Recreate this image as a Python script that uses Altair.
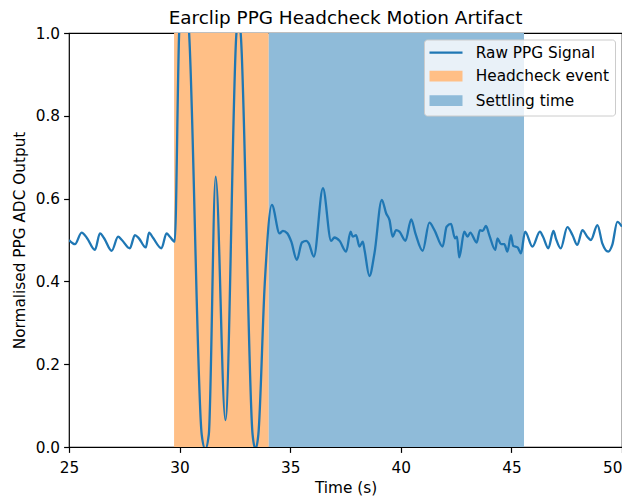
import altair as alt
import pandas as pd

# ---- data ----
time_s = [25.00, 25.27, 25.57, 25.81, 26.17, 26.40, 26.58, 26.93, 27.22, 27.39,
          27.75, 27.98, 28.16, 28.47, 28.62, 28.79, 29.18, 29.41, 29.56, 29.78,
          29.98, 30.20, 30.43, 31.00, 31.16, 31.32, 31.63, 32.07, 32.57, 32.66,
          32.76, 33.30, 33.43, 33.56, 33.85, 34.17, 34.52, 34.67, 34.87, 35.05,
          35.30, 35.53, 35.73, 35.84, 36.07, 36.48, 36.85, 37.00, 37.23, 37.53,
          37.73, 37.83, 37.98, 38.13, 38.28, 38.36, 38.58, 38.81, 39.14, 39.34,
          39.49, 39.63, 39.79, 39.94, 40.21, 40.47, 40.66, 40.99, 41.29, 41.52,
          41.89, 42.07, 42.27, 42.45, 42.54, 42.64, 42.87, 43.02, 43.14, 43.43,
          43.58, 43.70, 43.85, 44.00, 44.27, 44.37, 44.53, 44.68, 44.82, 44.98,
          45.08, 45.28, 45.43, 45.62, 45.95, 46.29, 46.43, 46.67, 46.90, 47.01,
          47.23, 47.53, 47.76, 47.98, 48.21, 48.43, 48.59, 48.89, 49.11, 49.38,
          49.56, 49.79, 50.00]
ppg = [0.500, 0.490, 0.518, 0.505, 0.476, 0.516, 0.505, 0.474, 0.508, 0.500,
       0.480, 0.512, 0.504, 0.482, 0.518, 0.506, 0.480, 0.516, 0.508, 0.496,
       1.000, 1.150, 1.000, 0.030, -0.005, 0.030, 0.653, 0.065, 1.000, 1.040,
       1.000, 0.030, -0.005, 0.030, 0.395, 0.585, 0.516, 0.522, 0.516, 0.496,
       0.452, 0.494, 0.498, 0.492, 0.460, 0.625, 0.498, 0.506, 0.498, 0.472,
       0.520, 0.508, 0.512, 0.484, 0.496, 0.476, 0.413, 0.468, 0.597, 0.564,
       0.548, 0.508, 0.524, 0.520, 0.498, 0.550, 0.516, 0.474, 0.542, 0.524,
       0.484, 0.532, 0.539, 0.504, 0.508, 0.458, 0.520, 0.508, 0.518, 0.494,
       0.524, 0.522, 0.534, 0.512, 0.476, 0.504, 0.490, 0.490, 0.472, 0.512,
       0.486, 0.482, 0.468, 0.520, 0.484, 0.520, 0.508, 0.480, 0.522, 0.504,
       0.480, 0.531, 0.512, 0.488, 0.524, 0.508, 0.500, 0.536, 0.492, 0.472,
       0.488, 0.544, 0.532]

span_labels = ["Headcheck event", "Settling time"]
span_start = [29.75, 34.03]
span_end = [34.03, 45.57]

legend_labels = ["Raw PPG Signal", "Headcheck event", "Settling time"]
x_ticks = [25, 30, 35, 40, 45, 50]
y_ticks = [0.0, 0.2, 0.4, 0.6, 0.8, 1.0]

# ---- styling ----
FONT = "DejaVu Sans"
LINE_BLUE = "#1f77b4"
SPAN_ORANGE = "#ffbf86"
SPAN_BLUE = "#8fbbd9"
LINE_PATH = "M-1.275,0H4.225"
RECT_PATH = "M-1.083,-0.7H4.033V0.7H-1.083Z"

sig_df = pd.DataFrame({"t": time_s, "v": ppg})
span_df = pd.DataFrame({"label": span_labels, "start": span_start, "end": span_end,
                        "lo": [0.0, 0.0], "hi": [1.0, 1.0]})
leg_df = pd.DataFrame({"label": legend_labels, "t": [0.0] * 3, "v": [0.5] * 3})

x_scale = alt.Scale(domain=[25, 50], nice=False, zero=False)
y_scale = alt.Scale(domain=[0, 1], nice=False, zero=False)

x_axis = alt.Axis(
    values=x_ticks, format="d", title="Time (s)", labelFlush=False,
    labelAlign={"condition": {"test": f"datum.value == {x_ticks[-1]}",
                              "value": "right"}, "value": "center"},
)
y_axis = alt.Axis(values=y_ticks, format=".1f", title="Normalised PPG ADC Output")

spans = alt.Chart(span_df).mark_rect(opacity=1).encode(
    x=alt.X("start:Q", scale=x_scale, axis=x_axis),
    x2="end:Q",
    y=alt.Y("lo:Q", scale=y_scale, axis=y_axis),
    y2="hi:Q",
    color=alt.Color("label:N", scale=alt.Scale(domain=span_labels,
                                               range=[SPAN_ORANGE, SPAN_BLUE]),
                    legend=None),
)

line = alt.Chart(sig_df).mark_line(color=LINE_BLUE, strokeWidth=2.3,
                                   interpolate="monotone", clip=True).encode(
    x=alt.X("t:Q", scale=x_scale, axis=x_axis),
    y=alt.Y("v:Q", scale=y_scale, axis=y_axis),
)

leg_common = dict(
    title=None, orient="none", legendX=355, legendY=6.5, padding=5.5,
    rowPadding=5.5, labelOffset=31, symbolOffset=0, symbolSize=144,
    symbolStrokeWidth=2.3, labelFontSize=15.3, labelFont=FONT,
    labelColor="black", fillColor="rgba(255,255,255,0.8)",
    strokeColor="#cccccc", cornerRadius=3, labelLimit=400, symbolOpacity=1,
)

legend_layer = alt.Chart(leg_df).mark_point(filled=True, opacity=1, size=144,
                                            clip=True).encode(
    x=alt.X("t:Q", scale=x_scale, axis=x_axis),
    y=alt.Y("v:Q", scale=y_scale, axis=y_axis),
    fill=alt.Fill("label:N", scale=alt.Scale(domain=legend_labels,
                  range=["transparent", SPAN_ORANGE, SPAN_BLUE]),
                  legend=alt.Legend(**leg_common)),
    stroke=alt.Stroke("label:N", scale=alt.Scale(domain=legend_labels,
                      range=[LINE_BLUE, SPAN_ORANGE, SPAN_BLUE]),
                      legend=alt.Legend(**leg_common)),
    shape=alt.Shape("label:N", scale=alt.Scale(domain=legend_labels,
                    range=[LINE_PATH, RECT_PATH, RECT_PATH]),
                    legend=alt.Legend(**leg_common)),
)

chart = alt.layer(spans, line, legend_layer).properties(
    width=553,
    height=414,
    title=alt.TitleParams("Earclip PPG Headcheck Motion Artifact", font=FONT,
                          fontSize=18.4, fontWeight="normal", color="black",
                          anchor="middle", offset=-1),
    autosize=alt.AutoSizeParams(type="none"),
    padding={"left": 61, "top": 25, "right": 0, "bottom": 50},
).configure_view(
    stroke="black", strokeWidth=1.2
).configure_axis(
    grid=False, domain=False, ticks=True, tickColor="black", tickWidth=1.2,
    tickSize=5.4, labelFont=FONT, labelFontSize=15.3,
    labelColor="black", titleFont=FONT, titleFontSize=15.3, titleColor="black",
    titleFontWeight="normal",
).configure_axisX(labelPadding=8, titlePadding=5).configure_axisY(
    labelPadding=4, titlePadding=8)

chart.save("out.html", embed_options={"renderer": "svg", "actions": False})
